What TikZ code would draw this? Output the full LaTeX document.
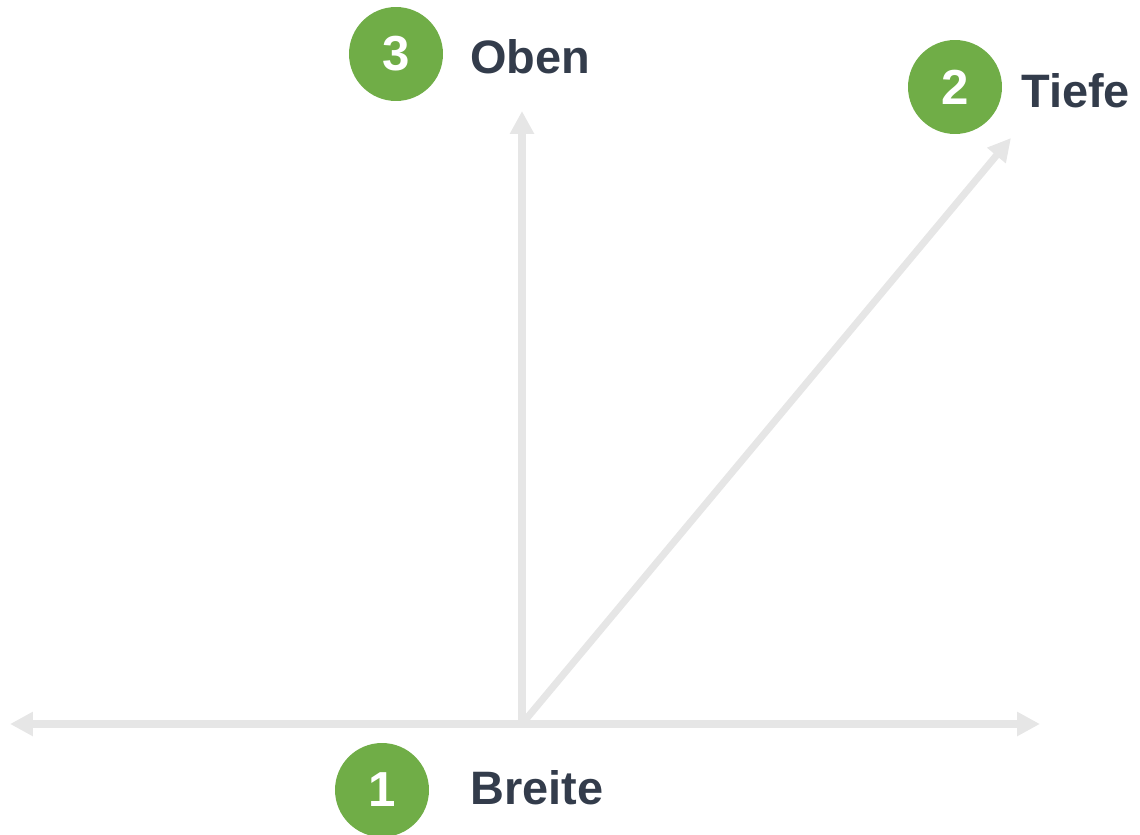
\documentclass[tikz,border=0pt]{standalone}
\usepackage{fontspec}
\setmainfont{Liberation Sans}
\usetikzlibrary{arrows.meta}
\definecolor{badgegreen}{HTML}{70AD47}
\definecolor{labelslate}{HTML}{333C4B}
\definecolor{axisgray}{HTML}{E6E6E6}
\tikzset{
    badge/.style = {
        circle,
        fill          = badgegreen,
        text          = white,
        minimum size  = 1.88cm,
        inner sep     = 0pt,
        font          = \fontsize{28}{30}\selectfont\bfseries,
    },
    axislabel/.style = {
        anchor    = base west,
        inner sep = 0pt,
        text      = labelslate,
        font      = \fontsize{26.7}{30}\selectfont\bfseries,
    },
    axis/.style = {
        draw       = axisgray,
        line width = 4pt,
    }
}

\begin{document}
\begin{tikzpicture}[x=0.02cm, y=-0.02cm, >={Triangle[length=13pt, width=13pt]}]
  % Fix the page to the full canvas.
  \path[use as bounding box] (0,0) rectangle (1140,835);

  \coordinate (o) at (522,724);
  \coordinate (left) at (10,724);
  \coordinate (right) at (1040,724);
  \coordinate (up) at (522,111);
  \coordinate (deep) at (1011,138);

  \draw[axis, <->] (left) -- (right);
  \draw[axis, ->] (o) -- (up);
  \draw[axis, ->] (o) -- (deep);

  \node[badge] (n1) at (382,790) {1};
  \node[axislabel] (breite) at (470,804) {Breite};
  \node[badge] (n2) at (955,87) {2};
  \node[axislabel] (tiefe) at (1021,107) {Tiefe};
  \node[badge] (n3) at (396,54) {3};
  \node[axislabel] (oben) at (470,73) {Oben};
\end{tikzpicture}
\end{document}
